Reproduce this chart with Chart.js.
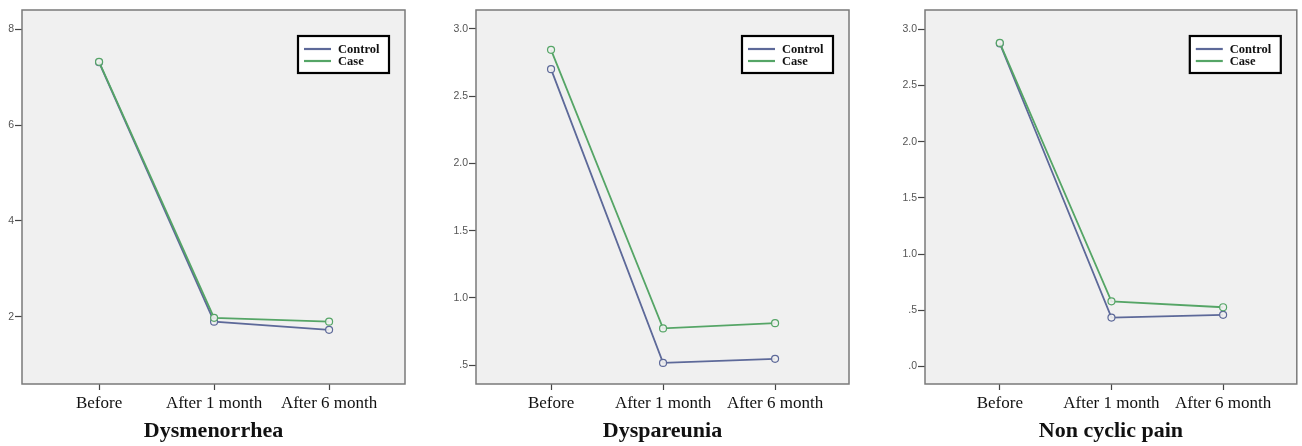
<!DOCTYPE html>
<html>
<head>
<meta charset="utf-8">
<script src="https://cdn.jsdelivr.net/npm/chart.js@4.4.1/dist/chart.umd.min.js"></script>
<style>
    body { margin: 0; background: #fff; }
    canvas { position: absolute; top: 0; }
</style>
</head>
<body>
<canvas id="dysChart" width="430" height="446" style="left:0px"></canvas>
<canvas id="dyspChart" width="440" height="446" style="left:430px"></canvas>
<canvas id="nonChart" width="432" height="446" style="left:870px"></canvas>
<script>
const categories = ['Before', 'After 1 month', 'After 6 month'];
const seriesNames = ['Control', 'Case'];

const dysControl = [7.31, 1.90, 1.73];
const dysCase = [7.32, 1.98, 1.90];
const dysTicks = [2, 4, 6, 8];

const dyspControl = [2.70, 0.517, 0.547];
const dyspCase = [2.844, 0.773, 0.812];
const dyspTicks = [0.5, 1.0, 1.5, 2.0, 2.5, 3.0];

const nonControl = [2.875, 0.435, 0.46];
const nonCase = [2.88, 0.58, 0.527];
const nonTicks = [0, 0.5, 1.0, 1.5, 2.0, 2.5, 3.0];

const controlColor = '#5d6999';
const caseColor = '#55a566';

// grey plot box + border, SPSS style
const plotBox = {
    id: 'plotBox',
    beforeDraw(chart) {
        const { ctx, chartArea: a } = chart;
        ctx.save();
        ctx.fillStyle = '#f0f0f0';
        ctx.fillRect(a.left, a.top, a.right - a.left, a.bottom - a.top);
        ctx.restore();
    },
    beforeDatasetsDraw(chart) {
        const { ctx, chartArea: a } = chart;
        ctx.save();
        ctx.strokeStyle = '#7a7a7a';
        ctx.lineWidth = 1.5;
        ctx.strokeRect(a.left, a.top, a.right - a.left, a.bottom - a.top);
        ctx.restore();
    }
};

// boxed legend inside top right corner
const boxLegend = {
    id: 'boxLegend',
    afterDraw(chart) {
        const { ctx, chartArea: a } = chart;
        const w = 91, h = 37;
        const left = a.right - 16 - w;
        const top = a.top + 26;
        ctx.save();
        ctx.fillStyle = '#fff';
        ctx.fillRect(left, top, w, h);
        ctx.strokeStyle = '#000';
        ctx.lineWidth = 2.2;
        ctx.strokeRect(left, top, w, h);
        ctx.font = 'bold 12.5px "Liberation Serif", "Times New Roman", serif';
        ctx.textBaseline = 'middle';
        chart.data.datasets.forEach((ds, i) => {
            const y = top + 13 + i * 12;
            ctx.strokeStyle = ds.borderColor;
            ctx.lineWidth = 2.2;
            ctx.beginPath();
            ctx.moveTo(left + 6, y);
            ctx.lineTo(left + 33, y);
            ctx.stroke();
            ctx.fillStyle = '#111';
            ctx.fillText(ds.label, left + 40, y + 0.5);
        });
        ctx.restore();
    }
};

function toPoints(values) {
    return values.map((v, i) => ({ x: i, y: v }));
}

function crearPanel(id, title, control, casos, yTicks, yMin, yMax, fmt, axisWidth, padRight) {
    const ctx = document.getElementById(id).getContext('2d');
    const lineStyle = color => ({
        borderColor: color,
        backgroundColor: color,
        borderWidth: 1.8,
        pointRadius: 3.5,
        pointBorderWidth: 1.2,
        pointBackgroundColor: 'rgba(240,240,240,0.9)',
        pointBorderColor: color,
        tension: 0
    });
    return new Chart(ctx, {
        type: 'line',
        data: {
            datasets: [
                { label: seriesNames[0], data: toPoints(control), order: 1, ...lineStyle(controlColor) },
                { label: seriesNames[1], data: toPoints(casos), order: 0, ...lineStyle(caseColor) }
            ]
        },
        options: {
            responsive: false,
            animation: false,
            layout: { padding: { top: 10, right: padRight, bottom: 0, left: 0 } },
            plugins: {
                legend: { display: false },
                tooltip: { enabled: false }
            },
            scales: {
                x: {
                    type: 'linear',
                    min: -0.67,
                    max: 2.66,
                    afterBuildTicks: s => { s.ticks = categories.map((c, i) => ({ value: i })); },
                    afterFit: s => { s.height = 62; },
                    grid: { drawOnChartArea: false, tickLength: 6, color: '#444', tickWidth: 1.2 },
                    border: { display: false },
                    ticks: {
                        padding: 3,
                        color: '#111',
                        font: { family: '"Liberation Serif", "Times New Roman", serif', size: 17 },
                        callback: v => categories[v]
                    },
                    title: {
                        display: true,
                        text: title,
                        color: '#111',
                        padding: { top: 0, bottom: 1 },
                        font: { family: '"Liberation Serif", "Times New Roman", serif', size: 22, weight: 'bold' }
                    }
                },
                y: {
                    min: yMin,
                    max: yMax,
                    afterBuildTicks: s => { s.ticks = yTicks.map(v => ({ value: v })); },
                    afterFit: s => { s.width = axisWidth; },
                    grid: { drawOnChartArea: false, tickLength: 7, color: '#444', tickWidth: 1.2 },
                    border: { display: false },
                    ticks: {
                        padding: 1,
                        color: '#555',
                        font: { family: '"Liberation Sans", Arial, sans-serif', size: 10.5 },
                        callback: fmt
                    }
                }
            }
        },
        plugins: [plotBox, boxLegend]
    });
}

const fmtInt = v => String(v);
const fmtSpss = v => v.toFixed(1).replace(/^0/, '');

crearPanel('dysChart', 'Dysmenorrhea', dysControl, dysCase, dysTicks, 0.6, 8.4, fmtInt, 22, 25);
crearPanel('dyspChart', 'Dyspareunia', dyspControl, dyspCase, dyspTicks, 0.36, 3.14, fmtSpss, 46, 21);
crearPanel('nonChart', 'Non cyclic pain', nonControl, nonCase, nonTicks, -0.156, 3.173, fmtSpss, 55, 1);
</script>
</body>
</html>
